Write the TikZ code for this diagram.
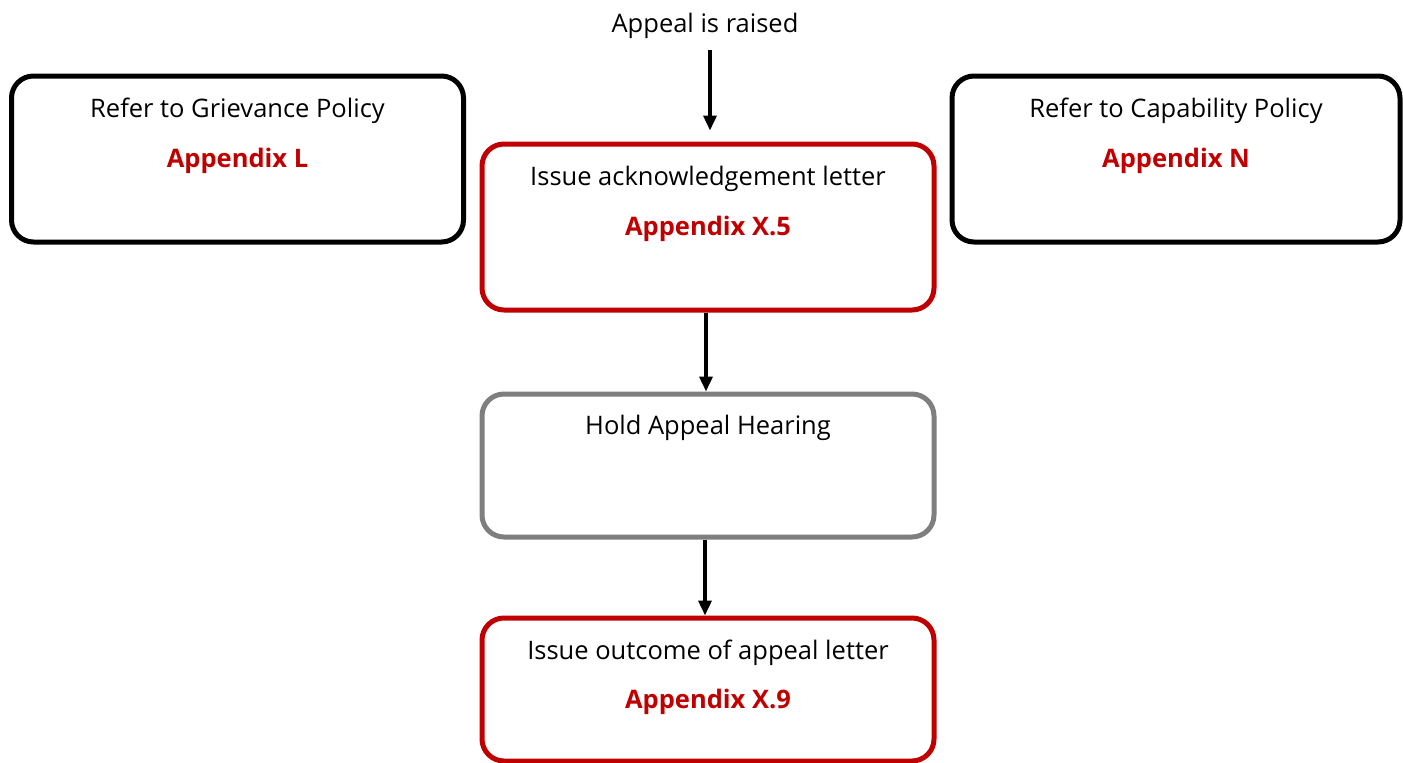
\documentclass[tikz,border=0pt]{standalone}
\usepackage{fontspec}
\setmainfont{Open Sans}
\usetikzlibrary{positioning,arrows.meta}

\definecolor{apxred}{HTML}{C00000}
\definecolor{hrgrey}{HTML}{7F7F7F}

\tikzset{
  box/.style={draw, line width=5pt, rounded corners=22pt, fill=white,
    minimum width=452pt, minimum height=166pt, inner sep=0pt},
  redbox/.style={box, draw=apxred},
  greybox/.style={box, draw=hrgrey, minimum height=143pt},
  txt/.style={font=\fontsize{25.5}{30}\selectfont, inner sep=0pt, anchor=base},
  apx/.style={txt, font=\fontsize{25.5}{30}\selectfont\bfseries, text=apxred},
  flow/.style={-{Triangle[width=13pt,length=15pt]}, line width=3.5pt},
}

\begin{document}
\begin{tikzpicture}[x=1pt,y=-1pt]
  \useasboundingbox (0,0) rectangle (1403,763);

  % boxes
  \node[box] (griev) at (237.5,159) {};
  \node[box, minimum width=448pt] (capab) at (1176,159) {};
  \node[redbox] (ack) at (708,227) {};
  \node[greybox] (hear) at (708,465.5) {};
  \node[redbox, minimum height=143pt] (outc) at (708,689.5) {};

  % texts
  \node[txt] (raised) at (705,32) {Appeal is raised};
  \node[txt] at ([yshift=-44pt]griev.north) {Refer to Grievance Policy};
  \node[apx] at ([yshift=-94pt]griev.north) {Appendix L};
  \node[txt] at ([yshift=-44pt]capab.north) {Refer to Capability Policy};
  \node[apx] at ([yshift=-94pt]capab.north) {Appendix N};
  \node[txt] at ([yshift=-44pt]ack.north) {Issue acknowledgement letter};
  \node[apx] at ([yshift=-94pt]ack.north) {Appendix X.5};
  \node[txt] at ([yshift=-43pt]hear.north) {Hold Appeal Hearing};
  \node[txt] at ([yshift=-44pt]outc.north) {Issue outcome of appeal letter};
  \node[apx] at ([yshift=-93pt]outc.north) {Appendix X.9};

  % arrows
  \draw[flow, shorten <=12pt, shorten >=11pt] (raised.south -| 710,0) -- (ack.north -| 710,0);
  \draw[flow] (ack.south -| 706,0) -- (hear.north -| 706,0);
  \draw[flow] (hear.south -| 705,0) -- (outc.north -| 705,0);
\end{tikzpicture}
\end{document}
